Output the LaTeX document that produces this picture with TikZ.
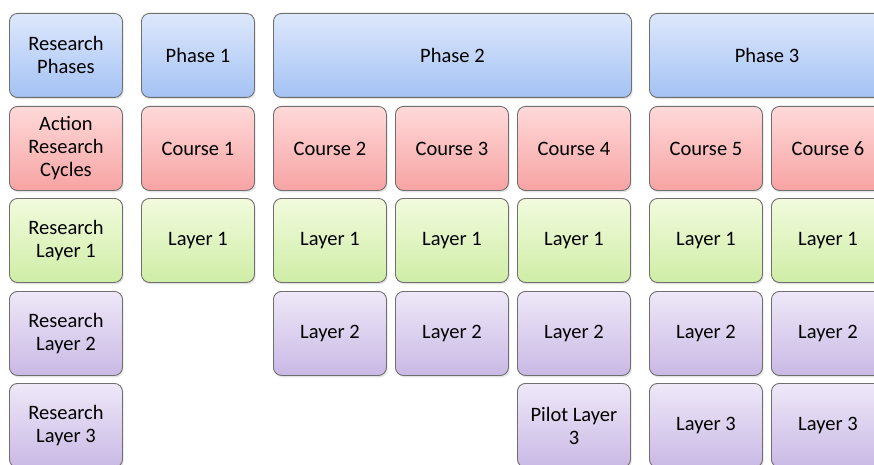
\documentclass[tikz,border=0pt]{standalone}
\usepackage{fontspec}
\setmainfont{Carlito}
\usetikzlibrary{shadows}
\definecolor{bluetop}{HTML}{DDE8FC}
\definecolor{bluebot}{HTML}{A4C2F4}
\definecolor{redtop}{HTML}{FFD9D9}
\definecolor{redbot}{HTML}{F7A3A3}
\definecolor{greentop}{HTML}{F2FBDD}
\definecolor{greenbot}{HTML}{CFEDA6}
\definecolor{purpletop}{HTML}{EEE8F8}
\definecolor{purplebot}{HTML}{C9B9E5}
\definecolor{edgegrey}{HTML}{6F6F6F}
\tikzset{
  cell/.style={draw=edgegrey, line width=0.9pt, rounded corners=8pt,
    anchor=north west, minimum height=84pt, minimum width=113pt,
    inner sep=2pt, align=center, font=\fontsize{20.5}{23}\selectfont,
    drop shadow={opacity=0.22, shadow xshift=1.2pt, shadow yshift=-1.8pt}},
  phasecell/.style={cell, top color=bluetop, bottom color=bluebot},
  coursecell/.style={cell, top color=redtop, bottom color=redbot},
  layerone/.style={cell, top color=greentop, bottom color=greenbot},
  layerlow/.style={cell, top color=purpletop, bottom color=purplebot},
}
\begin{document}
\begin{tikzpicture}[x=1pt, y=-1pt]
\useasboundingbox (0,0) rectangle (874,465);
\clip (0,0) rectangle (874,465);
% row headings
\node[phasecell]  (hphase)  at (9,13)  {Research\\Phases};
\node[coursecell] (hcycle)  at (9,106) {Action\\Research\\Cycles};
\node[layerone]   (hlayer1) at (9,198) {Research\\Layer 1};
\node[layerlow]   (hlayer2) at (9,291) {Research\\Layer 2};
\node[layerlow]   (hlayer3) at (9,383) {Research\\Layer 3};
% phases
\node[phasecell] (ph1) at (141,13) {Phase 1};
\node[phasecell, minimum width=358pt] (ph2) at (273,13) {Phase 2};
\node[phasecell, minimum width=235pt] (ph3) at (649,13) {Phase 3};
% courses
\node[coursecell] (c1) at (141,106) {Course 1};
\node[coursecell] (c2) at (273,106) {Course 2};
\node[coursecell] (c3) at (395,106) {Course 3};
\node[coursecell] (c4) at (517,106) {Course 4};
\node[coursecell] (c5) at (649,106) {Course 5};
\node[coursecell] (c6) at (771,106) {Course 6};
% research layer 1
\node[layerone] (a1) at (141,198) {Layer 1};
\node[layerone] (a2) at (273,198) {Layer 1};
\node[layerone] (a3) at (395,198) {Layer 1};
\node[layerone] (a4) at (517,198) {Layer 1};
\node[layerone] (a5) at (649,198) {Layer 1};
\node[layerone] (a6) at (771,198) {Layer 1};
% research layer 2
\node[layerlow] (b2) at (273,291) {Layer 2};
\node[layerlow] (b3) at (395,291) {Layer 2};
\node[layerlow] (b4) at (517,291) {Layer 2};
\node[layerlow] (b5) at (649,291) {Layer 2};
\node[layerlow] (b6) at (771,291) {Layer 2};
% research layer 3
\node[layerlow] (d4) at (517,383) {Pilot Layer\\3};
\node[layerlow] (d5) at (649,383) {Layer 3};
\node[layerlow] (d6) at (771,383) {Layer 3};
\end{tikzpicture}
\end{document}
